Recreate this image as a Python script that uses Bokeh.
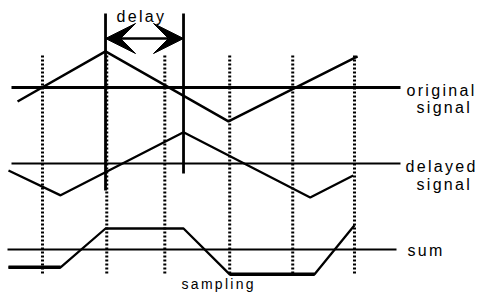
from bokeh.plotting import figure
from bokeh.models import Range1d, Arrow, VeeHead, InlineStyleSheet
from bokeh.core.properties import value
from bokeh.embed import file_html
from bokeh.resources import INLINE

# ---------------- data (time in sampling periods, level in amplitude units) ----
sample_t = [0.0, 1.03, 1.96, 3.0, 4.01, 5.0]

orig_t = [-0.40, 1.01, 2.98, 5.05]
orig_v = [-0.40, 1.03, -0.97, 0.89]

delay = 1.25

del_t = [-0.545, 0.29, 2.26, 4.29, 4.98]
del_v = [-0.20, -0.91, 0.89, -0.97, -0.34]

sum_t = [-0.545, 0.29, 1.01, 2.26, 3.0, 4.36, 5.0]
sum_v = [-0.51, -0.51, 0.60, 0.60, -0.71, -0.71, 0.69]

labels = ["delay", "original", "signal", "delayed", "signal", "sum", "sampling"]

# ---------------- layout helpers (reference pixel -> data) ----------------------
def X(px):
    return (px - 42) / 62.4

def Y(px):
    return (87 - px) / 35

W, H = 478, 292
ORIG_BASE = Y(87)
DEL_BASE = Y(163)
SUM_BASE = Y(249)

p = figure(width=W, height=H, output_backend="svg", toolbar_location=None,
           x_range=Range1d(X(0), X(W)), y_range=Range1d(Y(H), Y(0)),
           x_axis_location=None, y_axis_location=None, min_border=0,
           outline_line_color=None, background_fill_color="white",
           border_fill_color="white")
p.xgrid.visible = False
p.ygrid.visible = False
p.stylesheets = [InlineStyleSheet(css=":host { letter-spacing: 2.3px; }")]

# sampling instants (dotted)
p.segment(x0=sample_t, y0=[Y(55)] * len(sample_t), x1=sample_t, y1=[Y(274)] * len(sample_t),
          line_color="black", line_width=3, line_dash="2 2")

# baselines
p.segment(x0=[X(11)], y0=[ORIG_BASE], x1=[X(400)], y1=[ORIG_BASE], line_color="black", line_width=2.8)
p.segment(x0=[X(11)], y0=[DEL_BASE], x1=[X(400)], y1=[DEL_BASE], line_color="black", line_width=2)
p.segment(x0=[X(7)], y0=[SUM_BASE], x1=[X(396)], y1=[SUM_BASE], line_color="black", line_width=2)

# signals
p.line(orig_t, [ORIG_BASE + v for v in orig_v], line_color="black", line_width=2.5)
p.line(del_t, [DEL_BASE + v for v in del_v], line_color="black", line_width=2.3)
p.line(sum_t, [SUM_BASE + v for v in sum_v], line_color="black", line_width=2.3)
# heavier low plateaus of the sum
p.segment(x0=[sum_t[0], sum_t[4]], y0=[SUM_BASE + sum_v[0], SUM_BASE + sum_v[4]],
          x1=[sum_t[1], sum_t[5]], y1=[SUM_BASE + sum_v[1], SUM_BASE + sum_v[5]],
          line_color="black", line_width=3.5)

# delay markers
peak_t = orig_t[1]
p.segment(x0=[peak_t, peak_t + delay], y0=[Y(13), Y(13)],
          x1=[peak_t, peak_t + delay], y1=[Y(190), Y(173)],
          line_color="black", line_width=2.8)
head = dict(size=30, fill_color="black", line_color="black")
p.add_layout(Arrow(start=VeeHead(**head), end=VeeHead(**head),
                   x_start=peak_t, y_start=Y(38), x_end=peak_t + delay, y_end=Y(38),
                   line_color="black", line_width=2.5))

# texts
tx = [X(116), X(406), X(416), X(405), X(416), X(407), X(181)]
ty = [Y(16), Y(90), Y(107), Y(166), Y(184), Y(250), Y(283)]
sizes = ["16px", "16px", "16px", "16px", "16px", "16px", "14px"]
for x, y, t, s in zip(tx, ty, labels, sizes):
    p.text(x=[x], y=[y], text=[t], text_font=value("Liberation Sans"), text_font_size=s,
           text_align="left", text_baseline="alphabetic", text_color="black")

open("out.html", "w").write(file_html(p, INLINE))
